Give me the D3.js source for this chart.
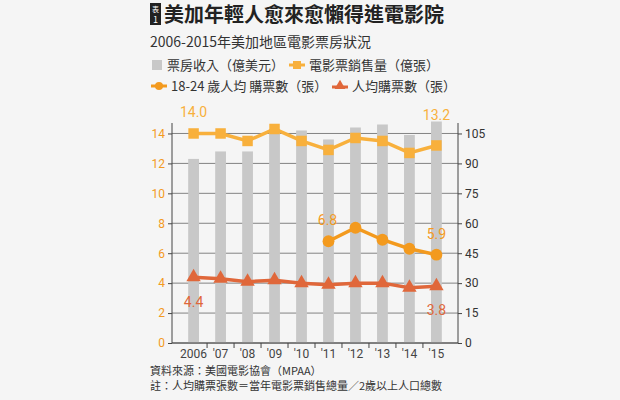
<!DOCTYPE html>
<html><head><meta charset="utf-8">
<script src="https://cdn.jsdelivr.net/npm/d3@7"></script>
<style>
body{margin:0;background:#f5f5f5;font-family:"Noto Sans CJK TC","Noto Sans",sans-serif;}
</style></head><body>
<svg id="c" width="620" height="400"></svg>
<script>
const years = ["2006","'07","'08","'09","'10","'11","'12","'13","'14","'15"];
const boxOffice = [12.3,12.8,12.8,14.3,14.2,13.6,14.4,14.6,13.9,14.8];
const tickets = [14.0,14.0,13.5,14.3,13.5,12.9,13.7,13.5,12.7,13.2];
const youth = [null,null,null,null,null,6.8,7.7,6.9,6.3,5.9];
const perCapita = [4.4,4.3,4.1,4.2,4.0,3.9,4.0,4.0,3.7,3.8];
const leftTicks = [0,2,4,6,8,10,12,14];
const rightTicks = [0,15,30,45,60,75,90,105];

const svg = d3.select("#c");
const pLeft = 172, pRight = 458, pTop = 123, pBottom = 343;
const x = d3.scaleBand().domain(years).range([pLeft, pRight]).padding(0.6);
const y = d3.scaleLinear().domain([0, 14.7]).range([pBottom, pTop]);
const y2 = d3.scaleLinear().domain([0, 105*14.7/14]).range([pBottom, pTop]);
const cx = d => x(d) + x.bandwidth()/2;

// title
svg.append("rect").attr("x",150).attr("y",3).attr("width",11).attr("height",22).attr("fill","#222");
svg.append("text").attr("x",155.5).attr("y",12).attr("text-anchor","middle").attr("fill","#fff").attr("font-size",7).text("表");
svg.append("text").attr("x",155.5).attr("y",23).attr("text-anchor","middle").attr("fill","#fff").attr("font-size",9).text("1");
svg.append("text").attr("x",164).attr("y",22).attr("font-size",20).attr("font-weight","bold").attr("fill","#222").text("美加年輕人愈來愈懶得進電影院");
svg.append("text").attr("x",150).attr("y",47).attr("font-size",14).attr("fill","#333").text("2006-2015年美加地區電影票房狀況");

// legend
const lg = svg.append("g").attr("font-size",13).attr("fill","#333");
lg.append("rect").attr("x",152).attr("y",60).attr("width",10).attr("height",10).attr("fill","#c8c8c8");
lg.append("text").attr("x",167).attr("y",70).text("票房收入（億美元）");
lg.append("line").attr("x1",289).attr("x2",305).attr("y1",65).attr("y2",65).attr("stroke","#f8b03c").attr("stroke-width",3);
lg.append("rect").attr("x",293).attr("y",61).attr("width",8).attr("height",8).attr("fill","#f8b03c");
lg.append("text").attr("x",309).attr("y",70).text("電影票銷售量（億張）");
lg.append("line").attr("x1",151).attr("x2",167).attr("y1",86).attr("y2",86).attr("stroke","#f39a1e").attr("stroke-width",3);
lg.append("circle").attr("cx",159).attr("cy",86).attr("r",4).attr("fill","#f39a1e");
lg.append("text").attr("x",171).attr("y",91).text("18-24 歲人均 購票數（張）");
lg.append("line").attr("x1",332).attr("x2",348).attr("y1",87).attr("y2",87).attr("stroke","#e0673a").attr("stroke-width",3);
lg.append("path").attr("d",d3.symbol(d3.symbolTriangle,50)()).attr("transform","translate(340,86)").attr("fill","#e0673a");
lg.append("text").attr("x",352).attr("y",91).text("人均購票數（張）");

// grid
svg.append("g").selectAll("line").data(leftTicks).join("line")
  .attr("x1",pLeft).attr("x2",pRight).attr("y1",d=>y(d)).attr("y2",d=>y(d))
  .attr("stroke","#666").attr("stroke-width",0.8);

// bars
svg.append("g").selectAll("rect").data(boxOffice).join("rect")
  .attr("x",(d,i)=>x(years[i])).attr("width",x.bandwidth())
  .attr("y",d=>y(d)).attr("height",d=>pBottom-y(d)).attr("fill","#c8c8c8");

// axes
const gl = svg.append("g").attr("transform",`translate(${pLeft},0)`).call(d3.axisLeft(y).tickValues(leftTicks).tickSize(4));
gl.selectAll("text").attr("fill","#f39a1e").attr("font-size",12).attr("font-family","Roboto");
gl.selectAll("line,path").attr("stroke","#444");
gl.select(".domain").attr("d",`M0,${pTop}V${pBottom}`);
const gr = svg.append("g").attr("transform",`translate(${pRight},0)`).call(d3.axisRight(y2).tickValues(rightTicks).tickSize(4));
gr.selectAll("text").attr("fill","#333").attr("font-size",12).attr("font-family","Roboto");
gr.selectAll("line,path").attr("stroke","#444");
gr.select(".domain").attr("d",`M0,${pTop}V${pBottom}`);
const gb = svg.append("g").attr("transform",`translate(0,${pBottom})`).call(d3.axisBottom(x).tickSize(0).tickPadding(6));
gb.select(".domain").attr("d",`M${pLeft},0H${pRight}`).attr("stroke","#444");
gb.selectAll("text").attr("fill","#444").attr("font-size",12).attr("font-family","Roboto");
svg.append("g").selectAll("line").data(years.slice(1)).join("line")
  .attr("x1",d=>cx(d)-x.step()/2).attr("x2",d=>cx(d)-x.step()/2)
  .attr("y1",pBottom).attr("y2",pBottom+5).attr("stroke","#444");

// lines
function series(data, color, sym, size){
  const line = d3.line().defined(d=>d!=null).x((d,i)=>cx(years[i])).y(d=>y(d));
  svg.append("path").datum(data).attr("d",line).attr("fill","none").attr("stroke",color).attr("stroke-width",3.5);
  svg.append("g").selectAll("path").data(data.map((d,i)=>[d,i]).filter(p=>p[0]!=null)).join("path")
    .attr("d",d3.symbol(sym,size)()).attr("transform",p=>`translate(${cx(years[p[1]])},${y(p[0])})`).attr("fill",color);
}
series(tickets,"#f8b03c",d3.symbolSquare,110);
series(youth,"#f39a1e",d3.symbolCircle,110);
series(perCapita,"#e0673a",d3.symbolTriangle,90);

// value labels
const lab = (t,xx,yy,c)=>svg.append("text").attr("x",xx).attr("y",yy).attr("text-anchor","middle")
  .attr("font-size",14).attr("font-family","Roboto").attr("fill",c).text(t);
lab(tickets[0].toFixed(1),cx(years[0]),y(tickets[0])-16,"#f8b03c");
lab(tickets[9].toFixed(1),cx(years[9]),y(tickets[9])-25,"#f8b03c");
lab(youth[5].toFixed(1),cx(years[5])-1,y(youth[5])-16,"#f39a1e");
lab(youth[9].toFixed(1),cx(years[9]),y(youth[9])-16,"#f39a1e");
lab(perCapita[0].toFixed(1),cx(years[0]),y(perCapita[0])+30,"#e0673a");
lab(perCapita[9].toFixed(1),cx(years[9]),y(perCapita[9])+29,"#e0673a");

// source
svg.append("text").attr("x",150).attr("y",375).attr("font-size",11).attr("fill","#333").text("資料來源：美國電影協會（MPAA）");
svg.append("text").attr("x",150).attr("y",390).attr("font-size",11).attr("fill","#333").text("註：人均購票張數＝當年電影票銷售總量／2歲以上人口總數");
</script></body></html>
